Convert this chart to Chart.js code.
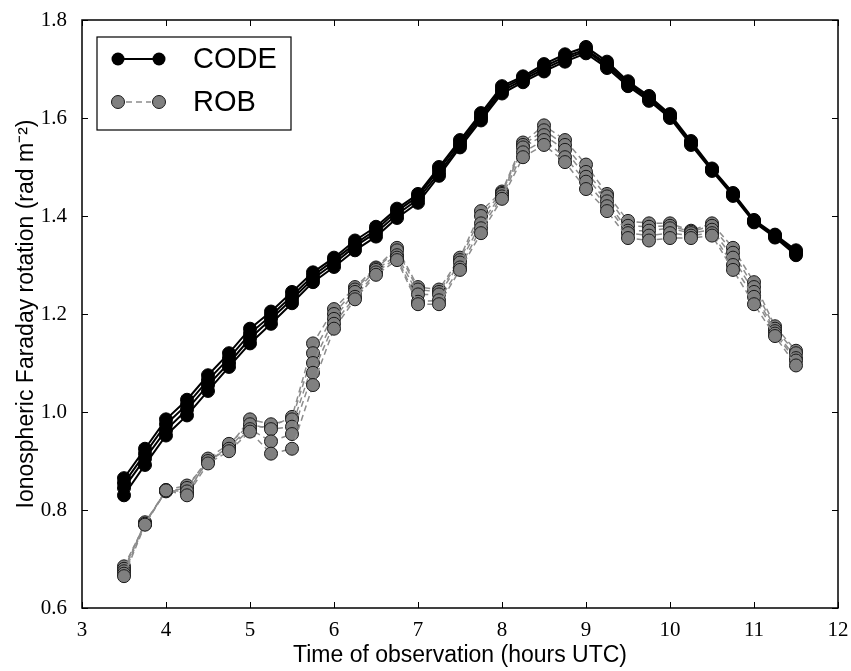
<!DOCTYPE html>
<html>
<head>
<meta charset="utf-8">
<script src="https://cdn.jsdelivr.net/npm/chart.js@4.4.1/dist/chart.umd.min.js"></script>
<style>
  body { margin: 0; background: #fff; }
  canvas { display: block; }
</style>
</head>
<body>
<canvas id="myChart" width="851" height="671"></canvas>
<script>
// observation times (hours UTC)
var hours = [3.5, 3.75, 4.0, 4.25, 4.5, 4.75, 5.0, 5.25, 5.5, 5.75, 6.0, 6.25, 6.5, 6.75, 7.0, 7.25,
             7.5, 7.75, 8.0, 8.25, 8.5, 8.75, 9.0, 9.25, 9.5, 9.75, 10.0, 10.25, 10.5, 10.75, 11.0, 11.25, 11.5];

// CODE model, one line per station
var code1 = [0.865, 0.925, 0.985, 1.025, 1.075, 1.12, 1.17, 1.205, 1.245, 1.285, 1.315, 1.35, 1.378, 1.415, 1.445, 1.5,
             1.555, 1.61, 1.665, 1.685, 1.71, 1.73, 1.745, 1.715, 1.675, 1.645, 1.608, 1.553, 1.497, 1.447, 1.392, 1.362, 1.33];
var code2 = [0.855, 0.915, 0.975, 1.015, 1.065, 1.11, 1.16, 1.197, 1.237, 1.278, 1.31, 1.343, 1.372, 1.41, 1.44, 1.495,
             1.55, 1.605, 1.66, 1.682, 1.705, 1.725, 1.74, 1.71, 1.672, 1.642, 1.605, 1.55, 1.495, 1.445, 1.39, 1.36, 1.327];
var code3 = [0.845, 0.905, 0.963, 1.005, 1.055, 1.1, 1.15, 1.19, 1.23, 1.272, 1.303, 1.338, 1.366, 1.403, 1.434, 1.488,
             1.545, 1.6, 1.655, 1.678, 1.7, 1.72, 1.737, 1.706, 1.669, 1.639, 1.603, 1.548, 1.494, 1.443, 1.389, 1.358, 1.324];
var code4 = [0.83, 0.892, 0.952, 0.993, 1.043, 1.092, 1.14, 1.18, 1.222, 1.265, 1.296, 1.33, 1.358, 1.396, 1.427, 1.482,
             1.54, 1.595, 1.65, 1.673, 1.695, 1.715, 1.732, 1.702, 1.665, 1.635, 1.6, 1.545, 1.492, 1.441, 1.387, 1.356, 1.32];

// ROB model
var rob1 = [0.665, 0.77, 0.84, 0.83, 0.895, 0.92, 0.96, 0.915, 0.925, 1.055, 1.17, 1.23, 1.28, 1.31, 1.22, 1.22,
            1.29, 1.365, 1.435, 1.52, 1.545, 1.51, 1.455, 1.41, 1.355, 1.35, 1.355, 1.355, 1.36, 1.29, 1.22, 1.155, 1.095];
var rob2 = [0.67, 0.772, 0.84, 0.838, 0.9, 0.925, 0.965, 0.94, 0.955, 1.08, 1.18, 1.235, 1.285, 1.315, 1.225, 1.228,
            1.295, 1.375, 1.44, 1.53, 1.555, 1.52, 1.47, 1.42, 1.365, 1.36, 1.365, 1.36, 1.365, 1.3, 1.235, 1.16, 1.105];
var rob3 = [0.675, 0.775, 0.838, 0.845, 0.905, 0.935, 0.975, 0.965, 0.97, 1.1, 1.19, 1.245, 1.29, 1.32, 1.24, 1.24,
            1.305, 1.385, 1.445, 1.54, 1.565, 1.535, 1.48, 1.43, 1.37, 1.37, 1.375, 1.365, 1.372, 1.315, 1.245, 1.165, 1.11];
var rob4 = [0.68, 0.773, 0.841, 0.85, 0.898, 0.93, 0.985, 0.975, 0.985, 1.12, 1.2, 1.25, 1.293, 1.33, 1.25, 1.245,
            1.31, 1.4, 1.447, 1.545, 1.575, 1.545, 1.49, 1.44, 1.38, 1.378, 1.38, 1.368, 1.38, 1.325, 1.255, 1.17, 1.12];
var rob5 = [0.685, 0.771, 0.839, 0.835, 0.902, 0.928, 0.97, 0.97, 0.99, 1.14, 1.21, 1.255, 1.295, 1.335, 1.255, 1.25,
            1.315, 1.41, 1.45, 1.55, 1.585, 1.555, 1.505, 1.445, 1.39, 1.385, 1.385, 1.37, 1.385, 1.335, 1.265, 1.175, 1.125];

var xTicks = [3, 4, 5, 6, 7, 8, 9, 10, 11, 12];
var yTicks = [0.6, 0.8, 1.0, 1.2, 1.4, 1.6, 1.8];

function pts(vals) {
  return vals.map(function (v, i) { return { x: hours[i], y: v }; });
}

function robSet(vals) {
  return {
    label: 'ROB',
    data: pts(vals),
    borderColor: '#8c8c8c',
    borderWidth: 1.5,
    borderDash: [6, 4],
    pointRadius: 6.5,
    pointBackgroundColor: '#808080',
    pointBorderColor: '#1a1a1a',
    pointBorderWidth: 1,
    showLine: true
  };
}

function codeSet(vals) {
  return {
    label: 'CODE',
    data: pts(vals),
    borderColor: '#000',
    borderWidth: 2,
    pointRadius: 6.5,
    pointBackgroundColor: '#000',
    pointBorderColor: '#000',
    pointBorderWidth: 1,
    showLine: true
  };
}

var frame = {
  id: 'frame',
  afterDraw: function (chart) {
    var c = chart.ctx, a = chart.chartArea;
    var xs = chart.scales.x, ys = chart.scales.y;
    c.save();
    c.strokeStyle = '#000';
    c.lineWidth = 1;
    xTicks.forEach(function (t) {
      var px = Math.round(xs.getPixelForValue(t)) + 0.5;
      c.beginPath();
      c.moveTo(px, a.bottom); c.lineTo(px, a.bottom - 6);
      c.moveTo(px, a.top); c.lineTo(px, a.top + 6);
      c.stroke();
    });
    yTicks.forEach(function (t) {
      var py = Math.round(ys.getPixelForValue(t)) + 0.5;
      c.beginPath();
      c.moveTo(a.left, py); c.lineTo(a.left + 6, py);
      c.moveTo(a.right, py); c.lineTo(a.right - 6, py);
      c.stroke();
    });
    c.lineWidth = 1.5;
    c.strokeRect(a.left, a.top, a.right - a.left, a.bottom - a.top);

    // legend
    var lx = a.left + 15, ly = a.top + 17;
    c.fillStyle = '#fff';
    c.fillRect(lx, ly, 194, 93);
    c.lineWidth = 1.2;
    c.strokeRect(lx, ly, 194, 93);
    var x1 = lx + 21, x2 = lx + 62;
    var r1 = ly + 22, r2 = ly + 65;
    c.lineWidth = 2;
    c.setLineDash([]);
    c.strokeStyle = '#000';
    c.beginPath(); c.moveTo(x1, r1); c.lineTo(x2, r1); c.stroke();
    [x1, x2].forEach(function (x) {
      c.beginPath(); c.arc(x, r1, 6.5, 0, Math.PI * 2);
      c.fillStyle = '#000'; c.fill();
    });
    c.strokeStyle = '#8c8c8c';
    c.lineWidth = 1.5;
    c.setLineDash([6, 4]);
    c.beginPath(); c.moveTo(x1 + 8, r2); c.lineTo(x2 - 8, r2); c.stroke();
    c.setLineDash([]);
    [x1, x2].forEach(function (x) {
      c.beginPath(); c.arc(x, r2, 6.5, 0, Math.PI * 2);
      c.fillStyle = '#808080'; c.fill();
      c.lineWidth = 1; c.strokeStyle = '#1a1a1a'; c.stroke();
    });
    c.fillStyle = '#000';
    c.font = '29px "Liberation Sans", Arial, sans-serif';
    c.textBaseline = 'middle';
    c.fillText('CODE', lx + 96, r1 + 1);
    c.fillText('ROB', lx + 96, r2 + 1);
    c.restore();
  }
};

var ctx = document.getElementById('myChart').getContext('2d');
var myChart = new Chart(ctx, {
  type: 'scatter',
  data: {
    datasets: [
      robSet(rob1), robSet(rob2), robSet(rob3), robSet(rob4), robSet(rob5),
      codeSet(code1), codeSet(code2), codeSet(code3), codeSet(code4)
    ]
  },
  options: {
    responsive: false,
    animation: false,
    devicePixelRatio: 1,
    layout: { padding: { top: 20, right: 13, left: 0, bottom: 0 } },
    plugins: {
      legend: { display: false },
      tooltip: { enabled: false }
    },
    scales: {
      x: {
        type: 'linear',
        min: 3,
        max: 12,
        afterBuildTicks: function (s) { s.ticks = xTicks.map(function (v) { return { value: v }; }); },
        afterFit: function (s) { s.height = 63; },
        grid: { display: false },
        border: { display: false },
        ticks: {
          color: '#000',
          padding: 2,
          font: { family: '"Liberation Serif", "DejaVu Serif", serif', size: 21 }
        },
        title: {
          display: true,
          text: 'Time of observation (hours UTC)',
          color: '#000',
          padding: { top: 0, bottom: 2 },
          font: { family: '"Liberation Sans", Arial, sans-serif', size: 23 }
        }
      },
      y: {
        min: 0.6,
        max: 1.8,
        afterBuildTicks: function (s) { s.ticks = yTicks.map(function (v) { return { value: v }; }); },
        afterFit: function (s) { s.width = 82; },
        grid: { display: false },
        border: { display: false },
        ticks: {
          color: '#000',
          padding: 7,
          font: { family: '"Liberation Serif", "DejaVu Serif", serif', size: 21 },
          callback: function (v) { return v.toFixed(1); }
        },
        title: {
          display: true,
          text: 'Ionospheric Faraday rotation (rad m\u207B\u00B2)',
          color: '#000',
          padding: { top: 13, bottom: 0 },
          font: { family: '"Liberation Sans", Arial, sans-serif', size: 23 }
        }
      }
    }
  },
  plugins: [frame]
});
</script>
</body>
</html>
